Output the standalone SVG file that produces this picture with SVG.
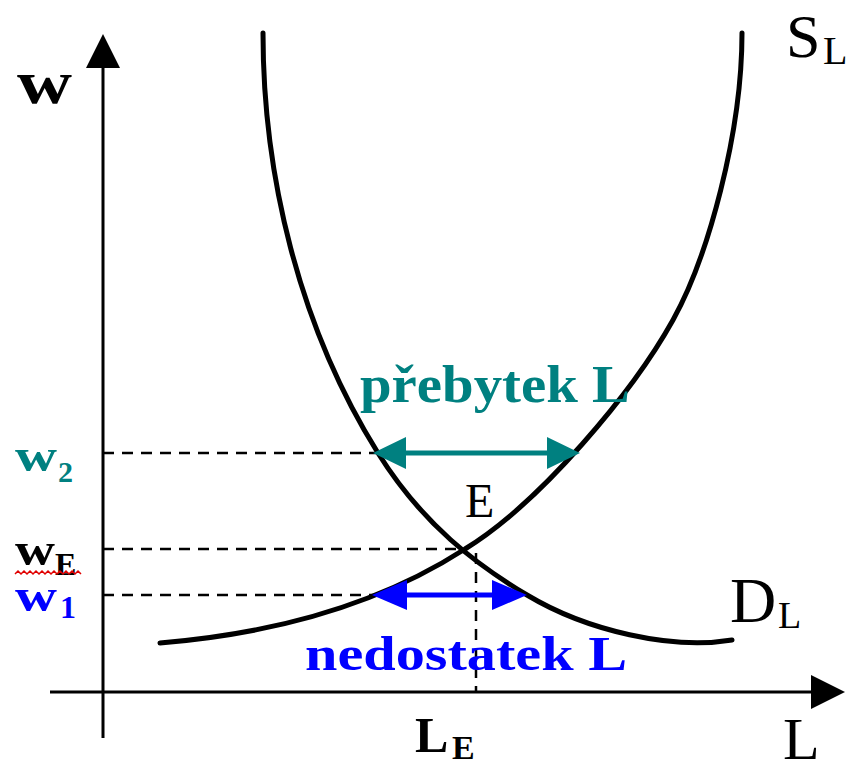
<svg xmlns="http://www.w3.org/2000/svg" width="854" height="763" viewBox="0 0 854 763">
  <style>
    .txt { font-family: "Liberation Serif", "Times New Roman", serif; }
    .b { font-weight: bold; }
    .axis { stroke: #000; stroke-width: 3; fill: none; }
    .curve { stroke: #000; stroke-width: 5; fill: none; stroke-linecap: round; }
    .dash { stroke: #000; stroke-width: 2.5; stroke-dasharray: 11 8; fill: none; }
    .teal { fill: #008080; }
    .blue { fill: #0000ff; }
    .blk { fill: #000; }
  </style>
  <defs>
    <marker id="axArrow" markerUnits="userSpaceOnUse" viewBox="0 -17 34 34" refX="3" refY="0" markerWidth="34" markerHeight="34" orient="auto">
      <path d="M0,-17 L34,0 L0,17 Z" fill="#000"/>
    </marker>
    <marker id="tealHead" markerUnits="userSpaceOnUse" viewBox="0 -16 33 32" refX="3" refY="0" markerWidth="33" markerHeight="32" orient="auto-start-reverse">
      <path d="M0,-16 L33,0 L0,16 Z" fill="#008080"/>
    </marker>
    <marker id="blueHead" markerUnits="userSpaceOnUse" viewBox="0 -15 35 30" refX="3" refY="0" markerWidth="35" markerHeight="30" orient="auto-start-reverse">
      <path d="M0,-15 L35,0 L0,15 Z" fill="#0000ff"/>
    </marker>
  </defs>
  <rect width="854" height="763" fill="#fff"/>

  <g id="axes">
    <line class="axis" x1="103" y1="738" x2="103" y2="65" marker-end="url(#axArrow)"/>
    <line class="axis" x1="50" y1="692" x2="814" y2="692" marker-end="url(#axArrow)"/>
  </g>

  <g id="guides">
    <line class="dash" x1="103" y1="453" x2="378" y2="453"/>
    <line class="dash" x1="103" y1="549" x2="462" y2="549"/>
    <line class="dash" x1="103" y1="595" x2="376" y2="595"/>
    <line class="dash" x1="476" y1="553" x2="476" y2="692"/>
  </g>

  <g id="curve-DL">
    <path class="curve" d="M263,33 C263,173 298,325 378,453 C423,525 477,565 527,595 C587,631 672,650 732,640"/>
  </g>
  <g id="curve-SL">
    <path class="curve" d="M160,643 C270,634 375,607 465,549 C540,503 633,392 673,320 C708,257 742,133 742,33"/>
  </g>

  <g id="connectors">
    <line x1="403" y1="453" x2="550" y2="453" stroke="#008080" stroke-width="5" marker-start="url(#tealHead)" marker-end="url(#tealHead)"/>
    <line x1="404" y1="595" x2="495" y2="595" stroke="#0000ff" stroke-width="5" marker-start="url(#blueHead)" marker-end="url(#blueHead)"/>
  </g>

  <g id="label-w">
    <text class="txt b blk" x="17" y="103" font-size="62" textLength="55" lengthAdjust="spacingAndGlyphs">w</text>
  </g>
  <g id="label-w2">
    <text class="txt b teal" x="15" y="471" font-size="46" textLength="42" lengthAdjust="spacingAndGlyphs">w</text>
    <text class="txt b teal" x="58" y="482" font-size="30">2</text>
  </g>
  <g id="label-wE">
    <text class="txt b blk" x="15" y="565" font-size="46" textLength="40" lengthAdjust="spacingAndGlyphs">w</text>
    <text class="txt b blk" x="55" y="575" font-size="32">E</text>
    <path d="M15,574 l3,-3 l3,3 l3,-3 l3,3 l3,-3 l3,3 l3,-3 l3,3 l3,-3 l3,3 l3,-3 l3,3 l3,-3 l3,3 l3,-3 l3,3 l3,-3 l3,3 l3,-3 l3,3 l3,-3 l3,3" fill="none" stroke="#e00000" stroke-width="1.5"/>
  </g>
  <g id="label-w1">
    <text class="txt b blue" x="15" y="611" font-size="46" textLength="42" lengthAdjust="spacingAndGlyphs">w</text>
    <text class="txt b blue" x="60" y="618" font-size="32">1</text>
  </g>
  <g id="label-prebytek">
    <text class="txt b teal" x="360" y="402" font-size="52" textLength="270" lengthAdjust="spacingAndGlyphs">přebytek L</text>
  </g>
  <g id="label-nedostatek">
    <text class="txt b blue" x="305" y="670" font-size="48" textLength="322" lengthAdjust="spacingAndGlyphs">nedostatek L</text>
  </g>
  <g id="label-E">
    <text class="txt blk" x="465" y="517" font-size="48">E</text>
  </g>
  <g id="label-SL">
    <text class="txt blk" x="786" y="57" font-size="62">S</text>
    <text class="txt blk" x="823" y="64" font-size="40">L</text>
  </g>
  <g id="label-DL">
    <text class="txt blk" x="730" y="622" font-size="64">D</text>
    <text class="txt blk" x="778" y="628" font-size="38">L</text>
  </g>
  <g id="label-L">
    <text class="txt blk" x="783" y="759" font-size="60">L</text>
  </g>
  <g id="label-LE">
    <text class="txt b blk" x="415" y="752" font-size="50">L</text>
    <text class="txt b blk" x="452" y="759" font-size="34">E</text>
  </g>
</svg>
